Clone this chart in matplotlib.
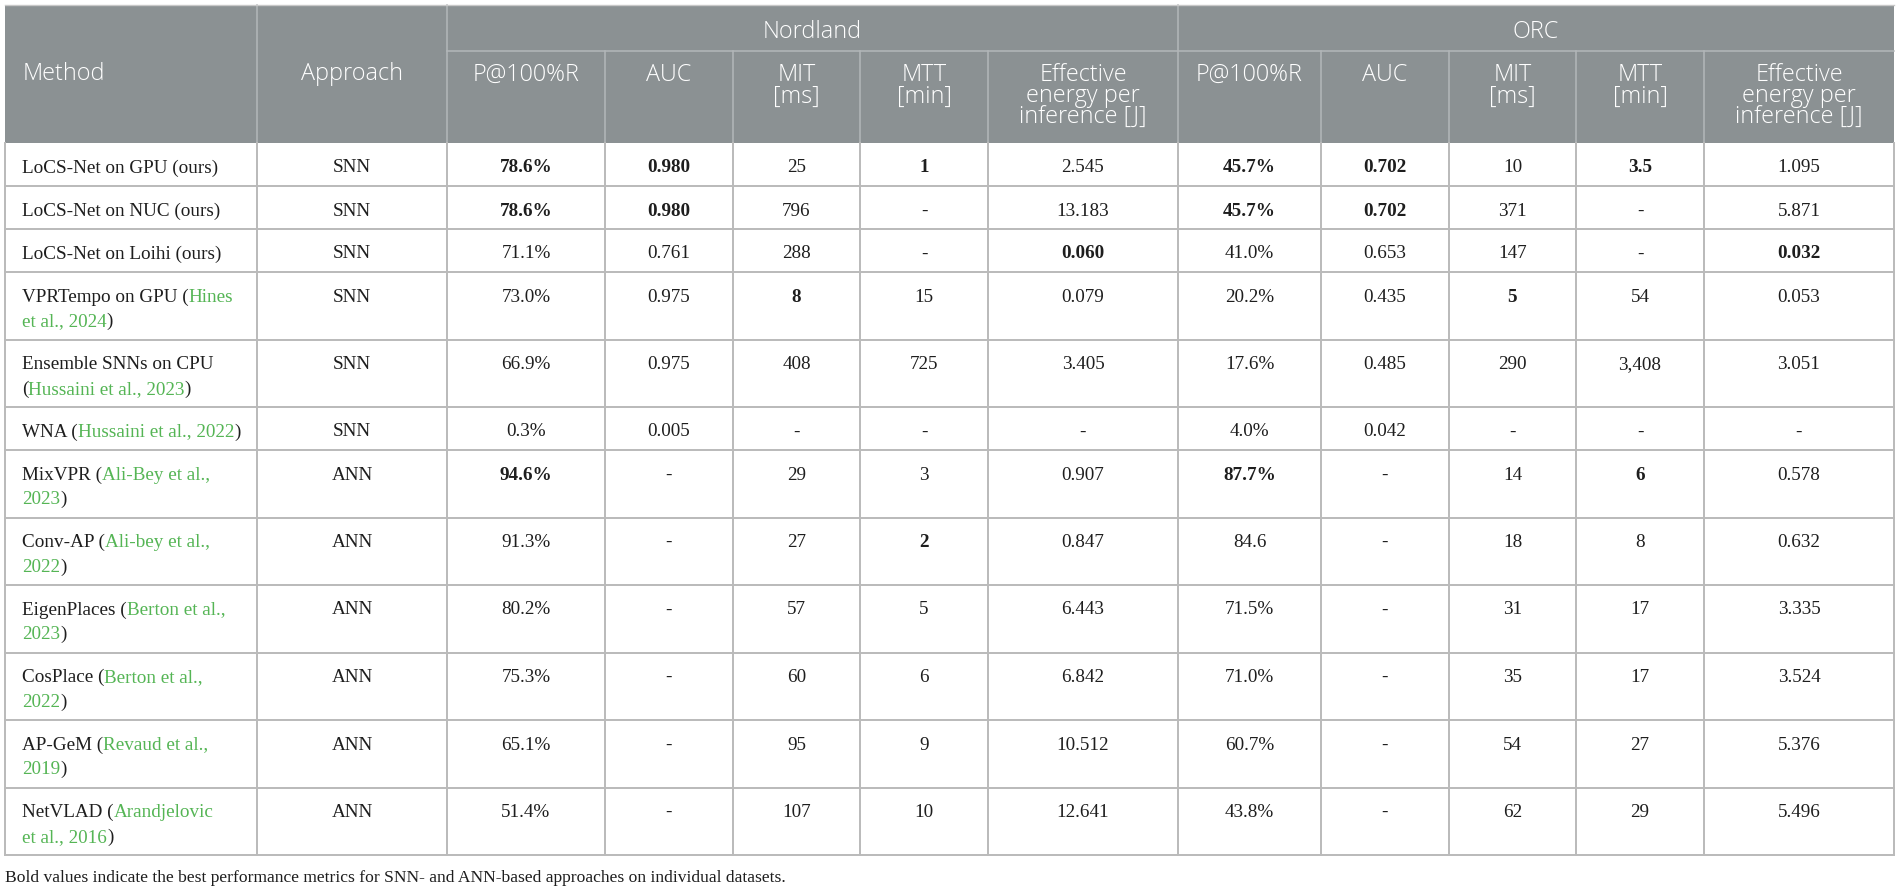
import re
import matplotlib
matplotlib.use("Agg")
import matplotlib.pyplot as plt
from matplotlib import font_manager

# ---------------- data ----------------
methods = [
    "LoCS-Net on GPU (ours)",
    "LoCS-Net on NUC (ours)",
    "LoCS-Net on Loihi (ours)",
    "VPRTempo on GPU ({Hines}\n{et al., 2024})",
    "Ensemble SNNs on CPU\n({Hussaini et al., 2023})",
    "WNA ({Hussaini et al., 2022})",
    "MixVPR ({Ali-Bey et al.,}\n{2023})",
    "Conv-AP ({Ali-bey et al.,}\n{2022})",
    "EigenPlaces ({Berton et al.,}\n{2023})",
    "CosPlace ({Berton et al.,}\n{2022})",
    "AP-GeM ({Revaud et al.,}\n{2019})",
    "NetVLAD ({Arandjelovic}\n{et al., 2016})",
]
approach = ["SNN", "SNN", "SNN", "SNN", "SNN", "SNN",
            "ANN", "ANN", "ANN", "ANN", "ANN", "ANN"]

nord_p = ["78.6%", "78.6%", "71.1%", "73.0%", "66.9%", "0.3%",
          "94.6%", "91.3%", "80.2%", "75.3%", "65.1%", "51.4%"]
nord_auc = ["0.980", "0.980", "0.761", "0.975", "0.975", "0.005",
            "-", "-", "-", "-", "-", "-"]
nord_mit = ["25", "796", "288", "8", "408", "-",
            "29", "27", "57", "60", "95", "107"]
nord_mtt = ["1", "-", "-", "15", "725", "-",
            "3", "2", "5", "6", "9", "10"]
nord_eff = ["2.545", "13.183", "0.060", "0.079", "3.405", "-",
            "0.907", "0.847", "6.443", "6.842", "10.512", "12.641"]

orc_p = ["45.7%", "45.7%", "41.0%", "20.2%", "17.6%", "4.0%",
         "87.7%", "84.6", "71.5%", "71.0%", "60.7%", "43.8%"]
orc_auc = ["0.702", "0.702", "0.653", "0.435", "0.485", "0.042",
           "-", "-", "-", "-", "-", "-"]
orc_mit = ["10", "371", "147", "5", "290", "-",
           "14", "18", "31", "35", "54", "62"]
orc_mtt = ["3.5", "-", "-", "54", "3,408", "-",
           "6", "8", "17", "17", "27", "29"]
orc_eff = ["1.095", "5.871", "0.032", "0.053", "3.051", "-",
           "0.578", "0.632", "3.335", "3.524", "5.376", "5.496"]

# (row, column) cells printed in bold
bold_cells = [(0, 2), (0, 3), (0, 5), (0, 7), (0, 8), (0, 10),
              (1, 2), (1, 3), (1, 7), (1, 8),
              (2, 6), (2, 11),
              (3, 4), (3, 9),
              (6, 2), (6, 7), (6, 10),
              (7, 5)]

group_labels = ["Nordland", "ORC"]
sub_labels = ["P@100%R", "AUC", "MIT\n[ms]", "MTT\n[min]",
              "Effective\nenergy per\ninference [J]"]
head_method = "Method"
head_approach = "Approach"
footnote = ("Bold values indicate the best performance metrics for SNN- and "
            "ANN-based approaches on individual datasets.")

# ---------------- layout / style ----------------
W, H = 1900, 889
col_edges = [5, 257, 447, 605, 733, 860, 988, 1178, 1321, 1449, 1576, 1704, 1894]
top, group_bottom, head_bottom = 5, 51, 143
row_h1, row_h_extra = 43, 24.5

HEAD_BG = "#8b9193"
HEAD_LINE = "#b3b7b9"
GRID = "#bababa"
TXT = "#1e1e1e"
GREEN = "#55b555"
SERIF = ["Liberation Serif", "DejaVu Serif"]
SANS = ["Open Sans", "DejaVu Sans"]
BODY_FS = 13.8
HEAD_FS = 16.8

# light weight for header if available
try:
    fp = font_manager.FontProperties(family="Open Sans", weight="light")
    fpath = font_manager.findfont(fp, fallback_to_default=False)
    HEAD_WEIGHT = "light" if "light" in fpath.lower() or "variable" in fpath.lower() or "wght" in fpath.lower() else "normal"
except Exception:
    HEAD_WEIGHT = "normal"

fig = plt.figure(figsize=(W / 100, H / 100), dpi=100)
ax = fig.add_axes([0, 0, 1, 1])
ax.set_xlim(0, W)
ax.set_ylim(H, 0)
ax.axis("off")
renderer = fig.canvas.get_renderer()

columns = [None, approach, nord_p, nord_auc, nord_mit, nord_mtt, nord_eff,
           orc_p, orc_auc, orc_mit, orc_mtt, orc_eff]
ncols = len(col_edges) - 1

# row edges from number of lines in method labels
row_edges = [head_bottom]
for m in methods:
    n = m.count("\n") + 1
    row_edges.append(row_edges[-1] + row_h1 + (n - 1) * row_h_extra)
bottom = row_edges[-1]

# ---------------- header ----------------
ax.add_patch(plt.Rectangle((col_edges[0], top), col_edges[-1] - col_edges[0],
                           head_bottom - top, facecolor=HEAD_BG, edgecolor="none", zorder=1))
lw_h = 1.1
for xe in [col_edges[1], col_edges[2], col_edges[7]]:
    ax.plot([xe, xe], [top, head_bottom], color=HEAD_LINE, lw=lw_h, zorder=2)
ax.plot([col_edges[2], col_edges[-1]], [group_bottom, group_bottom], color=HEAD_LINE, lw=lw_h, zorder=2)
for xe in col_edges[3:7] + col_edges[8:12]:
    ax.plot([xe, xe], [group_bottom, head_bottom], color=HEAD_LINE, lw=lw_h, zorder=2)
ax.plot([col_edges[0], col_edges[-1]], [top, top], color="#c8c8c8", lw=1.0, zorder=2)

hkw = dict(color="white", fontsize=HEAD_FS, family=SANS, fontweight=HEAD_WEIGHT,
           va="baseline", zorder=3)
ax.text(col_edges[0] + 18, 80, head_method, ha="left", **hkw)
ax.text((col_edges[1] + col_edges[2]) / 2, 80, head_approach, ha="center", **hkw)
for g, lab in enumerate(group_labels):
    x0 = col_edges[2 + 5 * g]
    x1 = col_edges[7 + 5 * g]
    ax.text((x0 + x1) / 2, 38, lab, ha="center", **hkw)
    for j, sl in enumerate(sub_labels):
        c = 2 + 5 * g + j
        xc = (col_edges[c] + col_edges[c + 1]) / 2
        for k, line in enumerate(sl.split("\n")):
            ax.text(xc, 81 + k * 21.5, line, ha="center", **hkw)

# ---------------- body grid ----------------
lw_b = 1.4
for ye in row_edges[1:]:
    ax.plot([col_edges[0], col_edges[-1]], [ye, ye], color=GRID, lw=lw_b, zorder=2)
for xe in col_edges:
    ax.plot([xe, xe], [head_bottom, bottom], color=GRID, lw=lw_b, zorder=2)


def draw_mixed(x, y, line):
    parts = [p for p in re.split(r"(\{[^}]*\})", line) if p]
    for p in parts:
        green = p.startswith("{")
        s = p[1:-1] if green else p
        t = ax.text(x, y, s, color=GREEN if green else TXT, fontsize=BODY_FS,
                    family=SERIF, ha="left", va="baseline", zorder=3)
        bb = t.get_window_extent(renderer)
        x = bb.x1


bold_set = set(bold_cells)
for r, m in enumerate(methods):
    ytop = row_edges[r]
    base = ytop + 29.5
    for k, line in enumerate(m.split("\n")):
        draw_mixed(col_edges[0] + 17, base + k * 24.8, line)
    for c in range(1, ncols):
        val = columns[c][r]
        xc = (col_edges[c] + col_edges[c + 1]) / 2
        ax.text(xc, base, val, color=TXT, fontsize=BODY_FS, family=SERIF,
                fontweight="bold" if (r, c) in bold_set else "normal",
                ha="center", va="baseline", zorder=3)

ax.text(col_edges[0], 882, footnote, color=TXT, fontsize=12.6, family=SERIF,
        ha="left", va="baseline", zorder=3)

fig.savefig("out.png", dpi=100, facecolor="white")
